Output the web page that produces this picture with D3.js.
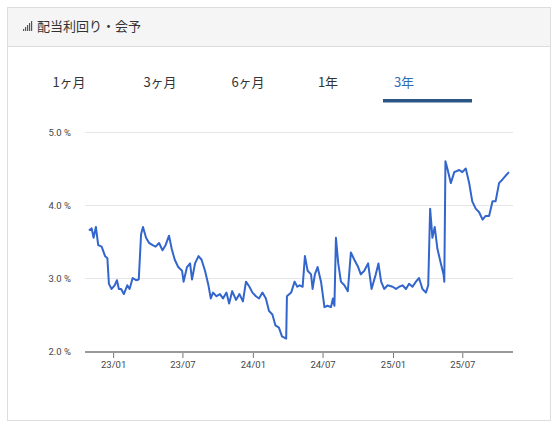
<!DOCTYPE html>
<html><head><meta charset="utf-8">
<script src="https://cdn.jsdelivr.net/npm/d3@7"></script>
<style>
body{margin:0;background:#fff;font-family:"Noto Sans CJK JP","Noto Sans",sans-serif;}
</style></head>
<body><svg id="chart" width="555" height="428"></svg>
<script>
// dividend yield (company forecast), %
const dates = ["2022-10-30","2022-11-06","2022-11-11","2022-11-17","2022-11-23","2022-12-02","2022-12-11","2022-12-17","2022-12-21","2022-12-28",
"2023-01-05","2023-01-11","2023-01-16","2023-01-22","2023-01-29","2023-02-07","2023-02-13","2023-02-21","2023-03-02","2023-03-09",
"2023-03-15","2023-03-20","2023-03-28","2023-04-05","2023-04-14","2023-04-22","2023-05-01","2023-05-10","2023-05-18","2023-05-27",
"2023-06-03","2023-06-11","2023-06-20","2023-06-30","2023-07-04","2023-07-13","2023-07-21","2023-07-26","2023-08-03","2023-08-12",
"2023-08-20","2023-08-29","2023-09-07","2023-09-13","2023-09-19","2023-09-28","2023-10-07","2023-10-15","2023-10-24","2023-10-31",
"2023-11-08","2023-11-18","2023-11-27","2023-12-06","2023-12-14","2023-12-23","2023-12-31","2024-01-09","2024-01-17","2024-01-26",
"2024-02-04","2024-02-12","2024-02-21","2024-02-29","2024-03-09","2024-03-17","2024-03-28","2024-03-30","2024-04-10","2024-04-19",
"2024-04-26","2024-05-02","2024-05-10","2024-05-16","2024-05-23","2024-06-01","2024-06-05","2024-06-11","2024-06-18","2024-06-27",
"2024-07-06","2024-07-14","2024-07-23","2024-07-28","2024-08-01","2024-08-05","2024-08-11","2024-08-18","2024-08-27","2024-09-05",
"2024-09-13","2024-09-22","2024-10-02","2024-10-09","2024-10-18","2024-10-28","2024-11-06","2024-11-17","2024-11-24","2024-12-01",
"2024-12-09","2024-12-18","2024-12-31","2025-01-09","2025-01-17","2025-01-26","2025-02-04","2025-02-12","2025-02-21","2025-03-02",
"2025-03-10","2025-03-19","2025-03-28","2025-04-03","2025-04-08","2025-04-14","2025-04-20","2025-04-27","2025-05-06","2025-05-13",
"2025-05-15","2025-05-18","2025-05-23","2025-06-01","2025-06-10","2025-06-23","2025-07-01","2025-07-10","2025-07-19","2025-07-27",
"2025-08-05","2025-08-14","2025-08-23","2025-08-31","2025-09-09","2025-09-18","2025-09-26","2025-10-05","2025-10-14","2025-10-22","2025-10-31"];
const yields = [3.65,3.68,3.55,3.70,3.45,3.43,3.30,3.27,2.92,2.85,
2.90,2.97,2.85,2.85,2.78,2.90,2.85,3.00,2.97,2.98,
3.60,3.70,3.55,3.48,3.45,3.43,3.48,3.38,3.45,3.58,
3.40,3.25,3.15,3.10,2.95,3.15,3.20,2.98,3.20,3.30,
3.25,3.10,2.90,2.72,2.80,2.75,2.78,2.72,2.80,2.65,
2.82,2.70,2.78,2.68,2.95,2.88,2.80,2.75,2.72,2.80,
2.72,2.55,2.50,2.35,2.32,2.20,2.17,2.75,2.80,2.95,
2.88,2.90,2.88,3.30,3.10,3.05,2.85,3.05,3.15,2.95,
2.60,2.62,2.60,2.72,2.62,3.55,3.20,2.95,2.90,2.82,
3.35,3.25,3.15,3.05,3.10,3.20,2.85,3.05,3.20,2.95,
2.85,2.90,2.88,2.85,2.88,2.90,2.85,2.92,2.88,2.95,
3.00,2.85,2.80,2.90,3.95,3.55,3.70,3.40,3.20,3.05,
2.95,4.60,4.50,4.30,4.45,4.48,4.45,4.50,4.30,4.05,
3.95,3.90,3.80,3.85,3.85,4.05,4.05,4.30,4.35,4.40,4.45];
const yTicks = [2, 3, 4, 5];
const xTickLabels = ["23/01","23/07","24/01","24/07","25/01","25/07"];
const tabs = ["1ヶ月","3ヶ月","6ヶ月","1年","3年"];
const activeTab = "3年";

const parse = d3.timeParse("%Y-%m-%d");
const data = dates.map((d, i) => ({date: parse(d), v: yields[i]}));

const svg = d3.select("#chart");

// card
svg.append("rect").attr("x", 7.5).attr("y", 7.5).attr("width", 543).attr("height", 413)
    .attr("fill", "#fff").attr("stroke", "#ddd");
svg.append("rect").attr("x", 8).attr("y", 8).attr("width", 542).attr("height", 38).attr("fill", "#f5f5f5");
svg.append("line").attr("x1", 8).attr("x2", 550).attr("y1", 46.5).attr("y2", 46.5).attr("stroke", "#ddd");

// header icon + title
[2, 4, 6, 8, 10].forEach((h, i) => {
    svg.append("rect").attr("x", 23 + i * 2).attr("y", 31 - h).attr("width", 1.2).attr("height", h).attr("fill", "#555");
});
svg.append("text").attr("x", 37).attr("y", 31).text("配当利回り・会予")
    .style("font-size", "13px").attr("fill", "#333");

// tabs
const tabX = [69, 160, 248, 328, 404];
svg.selectAll(".tab").data(tabs).enter().append("text")
    .attr("x", (d, i) => tabX[i]).attr("y", 87).attr("text-anchor", "middle")
    .text(d => d)
    .style("font-size", "13px")
    .attr("fill", d => d === activeTab ? "#2f6db5" : "#333");
svg.append("rect").attr("x", 383).attr("y", 99).attr("width", 89).attr("height", 3.5).attr("fill", "#2b5585");

// scales
const x = d3.scaleTime().domain([parse("2022-10-30"), parse("2025-10-31")]).range([89, 509]);
const y = d3.scaleLinear().domain([2, 5]).range([351, 132]);

// grid + y labels
svg.selectAll(".grid").data(yTicks.slice(1)).enter().append("line")
    .attr("x1", 85).attr("x2", 513).attr("y1", d => y(d) + 0.5).attr("y2", d => y(d) + 0.5)
    .attr("stroke", "#e6e6e6");
svg.selectAll(".ylab").data(yTicks).enter().append("text")
    .attr("x", 71).attr("y", d => y(d) + 3.5).attr("text-anchor", "end")
    .text(d => d3.format(".1f")(d) + " %")
    .style("font-size", "9.5px").attr("fill", "#444").style("font-family", "Roboto, sans-serif");

// x axis
const tickDates = xTickLabels.map(s => d3.timeParse("%y/%m")(s));
const xAxis = svg.append("g").attr("transform", "translate(0,352)")
    .call(d3.axisBottom(x).tickValues(tickDates).tickFormat(d3.timeFormat("%y/%m")).tickSize(6).tickSizeOuter(0));
xAxis.select(".domain").remove();
xAxis.selectAll(".tick line").attr("stroke", "#777");
xAxis.selectAll("text").style("font-size", "9.5px").attr("fill", "#444").style("font-family", "Roboto, sans-serif");
svg.append("line").attr("x1", 85).attr("x2", 513).attr("y1", 352).attr("y2", 352)
    .attr("stroke", "#999").attr("stroke-width", 2);

// line
const line = d3.line().x(d => x(d.date)).y(d => y(d.v));
svg.append("path").datum(data).attr("d", line)
    .attr("fill", "none").attr("stroke", "#3366cc").attr("stroke-width", 2)
    .attr("stroke-linejoin", "round");
</script></body></html>
